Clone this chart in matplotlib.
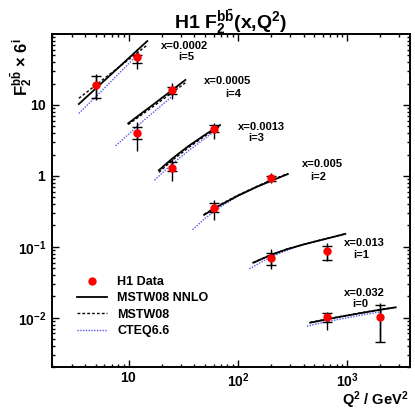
import numpy as np
import matplotlib
matplotlib.use("Agg")
import matplotlib.pyplot as plt
from matplotlib.lines import Line2D

plt.rcParams['font.family'] = ['Liberation Sans', 'DejaVu Sans']
plt.rcParams['font.weight'] = 'bold'
plt.rcParams['mathtext.fontset'] = 'custom'
plt.rcParams['mathtext.rm'] = 'Liberation Sans:bold'
plt.rcParams['mathtext.bf'] = 'Liberation Sans:bold'
plt.rcParams['mathtext.it'] = 'Liberation Sans:bold'
plt.rcParams['mathtext.sf'] = 'Liberation Sans:bold'

# ---- data (values are F2^bb * 6^i as plotted) ----
bins_i = [5, 4, 3, 2, 1, 0]
bins_x = ["0.0002", "0.0005", "0.0013", "0.005", "0.013", "0.032"]

data_q2 = [[5, 12], [12, 25], [25, 60], [60, 200], [200, 650], [650, 2000]]
data_val = [[19.0, 47.0], [4.04, 16.3], [1.28, 4.55], [0.354, 0.92], [0.070, 0.088], [0.0103, 0.0103]]
stat_lo = [[12.4, 38.6], [3.3, 14.3], [1.17, 4.1], [0.305, 0.84], [0.056, 0.066], [0.0088, 0.0045]]
stat_hi = [[25.9, 50.6], [4.85, 18.1], [1.57, 5.2], [0.41, 1.0], [0.082, 0.102], [0.0115, 0.0151]]
tot_lo = [[11.8, 31.8], [2.27, 12.0], [0.85, 3.36], [0.24, 0.79], [0.048, 0.063], [0.0068, 0.0045]]
tot_hi = [[27.0, 58.0], [5.8, 20.2], [1.72, 5.65], [0.46, 1.09], [0.0916, 0.114], [0.0122, 0.016]]

# theory curves
nnlo_q2 = [[3.5, 7, 14.8],
           [9.9, 18, 33],
           [18.9, 25, 35, 50, 68.5],
           [49, 70, 100, 150, 210, 286],
           [138, 200, 280, 400, 600, 960],
           [458, 800, 1200, 1800, 2775]]
nnlo_val = [[10.3, 27.5, 79.6],
            [5.5, 11.0, 22.5],
            [1.2, 1.75, 2.61, 3.8, 5.2],
            [0.282, 0.392, 0.525, 0.703, 0.875, 1.06],
            [0.0596, 0.0767, 0.0923, 0.108, 0.1265, 0.152],
            [0.0085, 0.0101, 0.0113, 0.0126, 0.0140]]
mstw_q2 = nnlo_q2
mstw_val = [[12.4, 28.5, 70.0],
            [5.3, 10.3, 20.5],
            [1.12, 1.65, 2.48, 3.65, 5.05],
            [0.287, 0.40, 0.535, 0.715, 0.89, 1.08],
            [0.0600, 0.0772, 0.0928, 0.1085, 0.127, 0.153],
            [0.0086, 0.0102, 0.0114, 0.0127, 0.0141]]
cteq_q2 = [[3.5, 6.5, 12.4],
           [7.6, 14, 25.8],
           [17.2, 25, 35, 50, 61.6],
           [38.4, 50, 70, 100, 140, 200],
           [127, 180, 250, 350, 450, 590],
           [427, 700, 1000, 1500, 2090]]
cteq_val = [[7.6, 19.5, 53.5],
            [2.65, 6.2, 13.8],
            [0.87, 1.47, 2.24, 3.38, 4.3],
            [0.174, 0.252, 0.37, 0.52, 0.68, 0.875],
            [0.049, 0.066, 0.083, 0.101, 0.114, 0.127],
            [0.0076, 0.0090, 0.0100, 0.0112, 0.0122]]

# label positions (pixels)
lab_px = [(185, 46, 186, 57), (228, 81, 233, 94), (261, 127, 256, 138), (322, 164, 318, 177), (364, 243, 361, 255), (364, 293, 360, 304)]

W, H = 415, 411
fig = plt.figure(figsize=(W / 100, H / 100), dpi=100)
ax = fig.add_axes([52.3 / W, 1 - 367.3 / H, (410 - 52.3) / W, (367.3 - 34) / H])
ax.set_xscale('log')
ax.set_yscale('log')
ax.set_xlim(2, 3750)
ax.set_ylim(0.002, 100)

blue = '#5555ee'
for k in range(len(bins_i)):
    ax.plot(cteq_q2[k], cteq_val[k], color=blue, lw=1.0, ls=(0, (1, 1)))
    ax.plot(mstw_q2[k], mstw_val[k], color='black', lw=1.0, ls=(0, (2, 1.5)))
    ax.plot(nnlo_q2[k], nnlo_val[k], color='black', lw=1.3, ls='-')
    q = np.array(data_q2[k], float)
    v = np.array(data_val[k])
    ax.errorbar(q, v, yerr=[v - np.array(tot_lo[k]), np.array(tot_hi[k]) - v], fmt='none',
                ecolor='black', elinewidth=1.0, capsize=0)
    ax.errorbar(q, v, yerr=[v - np.array(stat_lo[k]), np.array(stat_hi[k]) - v], fmt='none',
                ecolor='black', elinewidth=1.0, capsize=3.5, capthick=1.0)
    ax.plot(q, v, 'o', color='red', ms=5, mec='red', zorder=5)

for k in range(len(bins_i)):
    x1, y1, x2, y2 = lab_px[k]
    fig.text(x1 / W, 1 - y1 / H, "x=" + bins_x[k], ha='center', va='center', fontsize=8, fontweight='bold')
    fig.text(x2 / W, 1 - y2 / H, "i=%d" % bins_i[k], ha='center', va='center', fontsize=8, fontweight='bold')

ax.set_xticks([10, 100, 1000])
ax.set_xticklabels([r'$\mathbf{10}$', r'$\mathbf{10^{2}}$', r'$\mathbf{10^{3}}$'])
ax.set_yticks([0.01, 0.1, 1, 10])
ax.set_yticklabels([r'$\mathbf{10^{-2}}$', r'$\mathbf{10^{-1}}$', r'$\mathbf{1}$', r'$\mathbf{10}$'])
ax.tick_params(which='both', direction='in', top=True, right=True, labelsize=10, width=1.0)
ax.tick_params(which='major', length=5)
ax.tick_params(which='minor', length=2.5)
ax.tick_params(axis='x', pad=3)
ax.tick_params(axis='y', pad=4)
for s in ax.spines.values():
    s.set_linewidth(1.4)

handles = [Line2D([], [], ls='none', marker='o', color='red', ms=5),
           Line2D([], [], color='black', lw=1.3),
           Line2D([], [], color='black', lw=1.0, ls=(0, (2, 1.5))),
           Line2D([], [], color=blue, lw=1.0, ls=(0, (1, 1)))]
labels = ['H1 Data', 'MSTW08 NNLO', 'MSTW08', 'CTEQ6.6']
ax.legend(handles, labels, loc='upper left', bbox_to_anchor=(77 / W, 1 - 276 / H),
          bbox_transform=fig.transFigure, frameon=False, borderpad=0, borderaxespad=0,
          handlelength=2.4, handletextpad=0.8, labelspacing=0.35,
          prop={'weight': 'bold', 'size': 9})

fig.text(231 / W, 1 - 22 / H, r'H1 F$_2^{b\bar{b}}$(x,Q$^2$)', ha='center', va='center', fontsize=14, fontweight='bold')
fig.text(408 / W, 1 - 404.5 / H, r'Q$^2$ / GeV$^2$', ha='right', va='baseline', fontsize=10.5, fontweight='bold')
fig.text(22 / W, 1 - 38 / H, r'F$_2^{b\bar{b}}$ $\times$ 6$^i$', rotation=90, ha='center', va='top', fontsize=12, fontweight='bold')

fig.savefig('out.png', dpi=100)
